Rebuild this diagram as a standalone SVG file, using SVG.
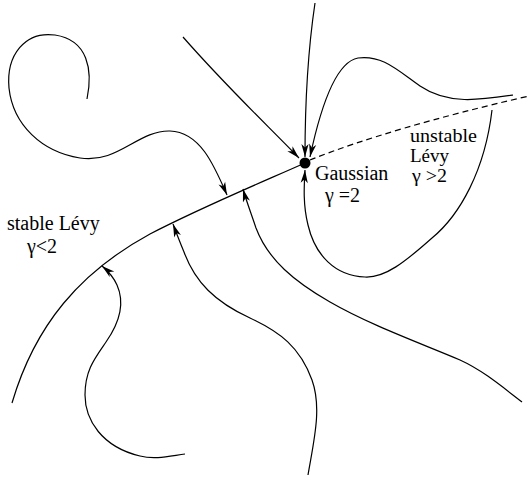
<svg xmlns="http://www.w3.org/2000/svg" width="529" height="477" viewBox="0 0 529 477">
  <style>
    .flow { fill: none; stroke: #000; stroke-width: 1.2; }
    .arr { marker-end: url(#head); }
    .dash { fill: none; stroke: #000; stroke-width: 1.2; stroke-dasharray: 6 4; }
    .lbl { font-family: "Liberation Serif", "Times New Roman", serif; font-size: 20px; fill: #000; }
    .lbl.tight { font-size: 18px; }
  </style>
  <defs>
    <marker id="head" markerUnits="userSpaceOnUse" viewBox="-14 -4 15 8" refX="0" refY="0" markerWidth="15" markerHeight="8" orient="auto">
      <path d="M0,0 L-13,-3.6 L-9.5,0 L-13,3.6 Z" fill="#000"/>
    </marker>
  </defs>

  <rect width="529" height="477" fill="#fff"/>

  <g id="connectors">
    <!-- stable manifold leading into the fixed point -->
    <path id="stable-line" class="flow" d="M12,403 C35,325 80,272 150,234 C200,208 260,183 305,163"/>
    <!-- unstable direction -->
    <path id="unstable-line" class="dash" d="M310,160 Q390,128 529,96"/>

    <!-- trajectories ending on the stable line -->
    <path class="flow arr" d="M87,99 C93,70 88,40 55,35 C25,31 6,55 9,88 C13,125 42,152 80,158 C118,164 138,130 170,131 C200,132 214,165 227,195"/>
    <path class="flow arr" d="M522,402 C500,385 482,370 460,360 C420,343 370,325 330,302 C295,282 268,260 256,228 C251,213 246,200 243,189"/>
    <path class="flow arr" d="M308,475 C314,440 322,408 312,380 C300,347 280,332 250,318 C215,302 195,282 184,252 C179,240 176,232 173,224"/>
    <path class="flow arr" d="M185,454 C170,456 155,460 140,456 C102,447 85,420 85,395 C85,370 95,358 106,342 C120,322 125,303 117,285 C113,276 108,271 102,266"/>

    <!-- trajectories ending on the Gaussian point -->
    <path class="flow arr" d="M183,37 C225,85 262,120 299,158"/>
    <path class="flow arr" d="M315,3 C308,50 305,110 305,157"/>
    <path class="flow arr" d="M513,95 C480,100 448,105 420,86 C396,69 382,55 358,58 C335,62 320,110 310,157"/>
    <path class="flow arr" d="M492,110 C485,170 460,215 432,238 C405,262 385,278 365,277 C335,276 315,255 308,225 C303,205 304,187 305,170"/>
  </g>

  <g id="gaussian">
    <circle cx="305" cy="163" r="5.5" fill="#000"/>
    <text class="lbl" x="315" y="180">Gaussian</text>
    <text class="lbl" x="325" y="202">γ =2</text>
  </g>

  <g id="stable-levy">
    <text class="lbl" x="7" y="230">stable Lévy</text>
    <text class="lbl" x="27" y="253">γ&lt;2</text>
  </g>

  <g id="unstable-levy">
    <text class="lbl tight" x="410" y="142" textLength="67" lengthAdjust="spacingAndGlyphs">unstable</text>
    <text class="lbl tight" x="410" y="162" textLength="39" lengthAdjust="spacingAndGlyphs">Lévy</text>
    <text class="lbl tight" x="412" y="182" textLength="35" lengthAdjust="spacingAndGlyphs">γ &gt;2</text>
  </g>
</svg>
